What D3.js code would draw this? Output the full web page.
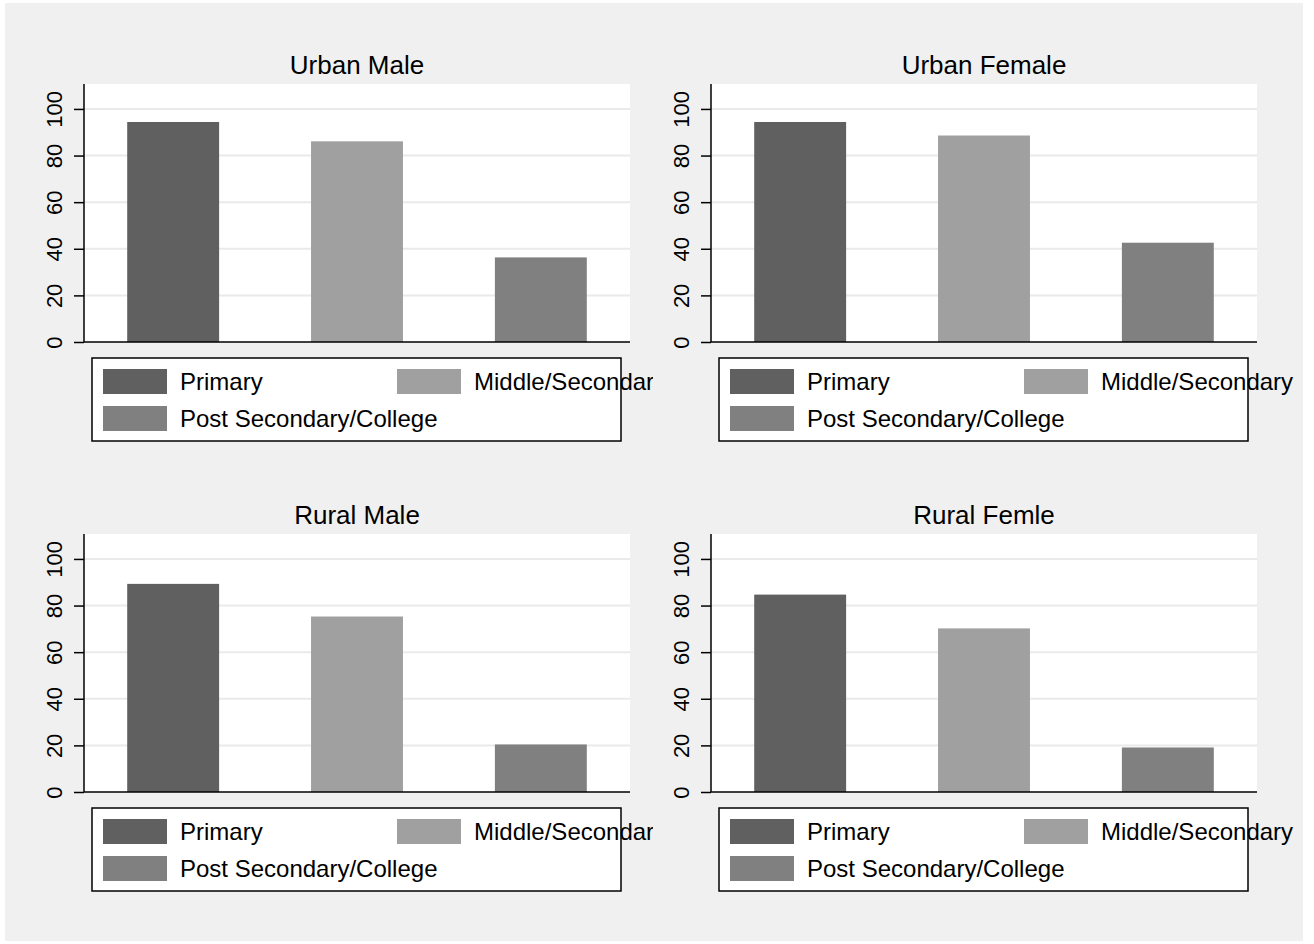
<!DOCTYPE html>
<html>
<head>
<meta charset="utf-8">
<script src="https://cdn.jsdelivr.net/npm/d3@7"></script>
<style>
    body { margin: 0; background: #ffffff; }
    text { font-family: "Liberation Sans", Arial, Helvetica, sans-serif; fill: #000000; }
</style>
</head>
<body>
<div id="chart"></div>
<script>
// Data
const panels = ["Urban Male", "Urban Female", "Rural Male", "Rural Femle"];
const levels = ["Primary", "Middle/Secondary", "Post Secondary/College"];
const primary = [94.4, 94.4, 89.3, 84.7];
const middle = [86.1, 88.6, 75.3, 70.2];
const postSecondary = [36.3, 42.6, 20.4, 19.1];
const yTicks = [0, 20, 40, 60, 80, 100];
const yMax = 110.7;

const colors = ["#606060", "#a0a0a0", "#808080"];

class PanelBarChart {
    constructor(svg, index, x0, y0) {
        this.svg = svg;
        this.index = index;
        this.x0 = x0;
        this.y0 = y0;
        this.values = [primary[index], middle[index], postSecondary[index]];
        this.initVis();
    }

    initVis() {
        let vis = this;

        vis.margin = {top: 84, left: 84};
        vis.width = 546;
        vis.height = 258;

        vis.g = vis.svg.append("g")
            .attr("transform", `translate(${vis.x0}, ${vis.y0})`);

        // left column panels get clipped at their right edge
        if (vis.index % 2 === 0) {
            vis.svg.select("defs").append("clipPath")
                .attr("id", "clip" + vis.index)
                .append("rect")
                .attr("x", 0).attr("y", 0)
                .attr("width", 653).attr("height", 450);
            vis.g.attr("clip-path", `url(#clip${vis.index})`);
        }

        // Plot region
        vis.g.append("rect")
            .attr("x", vis.margin.left)
            .attr("y", vis.margin.top)
            .attr("width", vis.width)
            .attr("height", vis.height)
            .attr("fill", "#ffffff");

        // X Scale
        vis.x = d3.scaleBand()
            .domain(levels)
            .range([vis.margin.left, vis.margin.left + vis.width])
            .paddingInner(0.5)
            .paddingOuter(0.235);

        // Y Scale
        vis.y = d3.scaleLinear()
            .domain([0, yMax])
            .range([vis.margin.top + vis.height, vis.margin.top]);

        // Gridlines
        vis.g.selectAll(".grid")
            .data(yTicks.filter(d => d > 0))
            .enter().append("line")
            .attr("class", "grid")
            .attr("x1", vis.margin.left)
            .attr("x2", vis.margin.left + vis.width)
            .attr("y1", d => vis.y(d))
            .attr("y2", d => vis.y(d))
            .attr("stroke", "#eaeaea")
            .attr("stroke-width", 2);

        // Bars
        vis.g.selectAll(".bar")
            .data(vis.values)
            .enter().append("rect")
            .attr("class", "bar")
            .attr("x", (d, i) => vis.x(levels[i]))
            .attr("y", d => vis.y(d))
            .attr("width", vis.x.bandwidth())
            .attr("height", d => vis.y(0) - vis.y(d))
            .attr("fill", (d, i) => colors[i]);

        // Y Axis
        vis.yAxis = d3.axisLeft(vis.y)
            .tickValues(yTicks)
            .tickSize(10)
            .tickPadding(12);

        vis.yAxisGroup = vis.g.append("g")
            .attr("class", "y-axis")
            .attr("transform", `translate(${vis.margin.left}, 0)`)
            .call(vis.yAxis);

        vis.yAxisGroup.select(".domain").remove();
        vis.yAxisGroup.selectAll("line")
            .attr("stroke", "#000000")
            .attr("stroke-width", 1.5);
        vis.yAxisGroup.selectAll("text")
            .attr("x", null).attr("dy", null)
            .attr("transform", "translate(-22, 0) rotate(-90)")
            .style("text-anchor", "middle")
            .style("font-size", "22px");

        vis.g.append("line")
            .attr("x1", vis.margin.left).attr("x2", vis.margin.left)
            .attr("y1", vis.margin.top).attr("y2", vis.y(0))
            .attr("stroke", "#000000")
            .attr("stroke-width", 1.5);

        // X Axis baseline
        vis.g.append("line")
            .attr("x1", vis.margin.left).attr("x2", vis.margin.left + vis.width)
            .attr("y1", vis.y(0)).attr("y2", vis.y(0))
            .attr("stroke", "#000000")
            .attr("stroke-width", 1.5);

        // Title
        vis.g.append("text")
            .attr("x", vis.margin.left + vis.width / 2)
            .attr("y", 74)
            .style("text-anchor", "middle")
            .style("font-size", "26px")
            .text(panels[vis.index]);

        vis.drawLegend();
    }

    drawLegend() {
        let vis = this;

        let boxX = vis.margin.left + 8;
        let boxW = vis.width - 17;

        vis.g.append("rect")
            .attr("x", boxX)
            .attr("y", 358)
            .attr("width", boxW)
            .attr("height", 83)
            .attr("fill", "#ffffff")
            .attr("stroke", "#000000")
            .attr("stroke-width", 1.5);

        let items = vis.g.selectAll(".legend-item")
            .data(levels)
            .enter().append("g")
            .attr("class", "legend-item")
            .attr("transform", (d, i) => `translate(${boxX + 11 + (i % 2) * 294}, ${369 + Math.floor(i / 2) * 37})`);

        items.append("rect")
            .attr("width", 64)
            .attr("height", 25)
            .attr("fill", (d, i) => colors[i]);

        items.append("text")
            .attr("x", 77)
            .attr("y", 21)
            .style("font-size", "24px")
            .text(d => d);
    }
}

const svg = d3.select("#chart").append("svg")
    .attr("width", 1314)
    .attr("height", 944);

svg.append("defs");

// Outer background
svg.append("rect")
    .attr("x", 5).attr("y", 3)
    .attr("width", 1298).attr("height", 938)
    .attr("fill", "#f0f0f0");

panels.forEach((p, i) => {
    new PanelBarChart(svg, i, (i % 2) * 627, Math.floor(i / 2) * 450);
});
</script>
</body>
</html>
